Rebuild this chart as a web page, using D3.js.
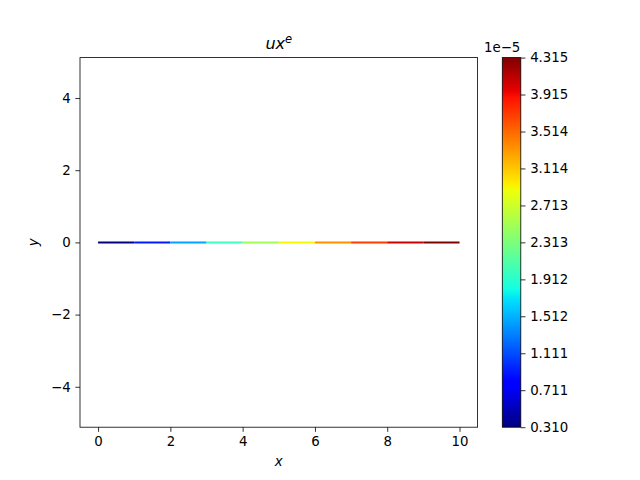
<!DOCTYPE html>
<html><head><meta charset="utf-8">
<script src="https://cdn.jsdelivr.net/npm/d3@7"></script>
<style>body{margin:0;background:#fff}svg{display:block}text{font-family:"DejaVu Sans",sans-serif;fill:#000}</style>
</head><body><svg id="c" width="640" height="480"></svg>
<script>
// Data
const segStarts = [0,1,2,3,4,5,6,7,8,9];
const segEnds   = [1,2,3,4,5,6,7,8,9,10];
const segY      = [0,0,0,0,0,0,0,0,0,0];
const segValues = [0.310,0.911,1.451,2.008,2.493,2.905,3.350,3.706,4.051,4.315]; // x 1e-5
const xTicks = [0,2,4,6,8,10];
const yTicks = [-4,-2,0,2,4];
const cbTicks = [0.310,0.711,1.111,1.512,1.912,2.313,2.713,3.114,3.514,3.915,4.315];
const cbTickLabels = ["0.310","0.711","1.111","1.512","1.912","2.313","2.713","3.114","3.514","3.915","4.315"];

// jet colormap (matplotlib segment data)
const jetR=[[0,0],[0.35,0],[0.66,1],[0.89,1],[1,0.5]];
const jetG=[[0,0],[0.125,0],[0.375,1],[0.64,1],[0.91,0],[1,0]];
const jetB=[[0,0.5],[0.11,1],[0.34,1],[0.65,0],[1,0]];
function interp(seg,t){t=Math.max(0,Math.min(1,t));for(let i=1;i<seg.length;i++){if(t<=seg[i][0]){const a=seg[i-1],b=seg[i];return a[1]+(b[1]-a[1])*(t-a[0])/(b[0]-a[0]);}}return seg[seg.length-1][1];}
function jet(t){return d3.rgb(Math.round(255*interp(jetR,t)),Math.round(255*interp(jetG,t)),Math.round(255*interp(jetB,t))).toString();}

const svg=d3.select("#c");
const L=80,R=477.6,T=57.6,B=427.2;
const x=d3.scaleLinear().domain([-0.5,10.5]).range([L,R]);
const y=d3.scaleLinear().domain([-5.12,5.12]).range([B,T]);
const vmin=d3.min(segValues),vmax=d3.max(segValues);
const norm=d3.scaleLinear().domain([vmin,vmax]).range([0,1]);

// segments
svg.append("g").selectAll("line").data(segStarts).join("line")
  .attr("x1",(d,i)=>x(segStarts[i])).attr("x2",(d,i)=>x(segEnds[i]))
  .attr("y1",(d,i)=>y(segY[i])).attr("y2",(d,i)=>y(segY[i]))
  .attr("stroke",(d,i)=>jet(norm(segValues[i]))).attr("stroke-width",2);

// axes
const fs="13.33px";
const xa=svg.append("g").attr("transform",`translate(0,${B})`).call(d3.axisBottom(x).tickValues(xTicks).tickSize(4.67).tickPadding(4.67).tickFormat(d3.format("d")));
const ya=svg.append("g").attr("transform",`translate(${L},0)`).call(d3.axisLeft(y).tickValues(yTicks).tickSize(4.67).tickPadding(4.67).tickFormat(d=>d<0?"\u2212"+Math.abs(d):d));
[xa,ya].forEach(g=>{g.select(".domain").remove();g.selectAll("text").style("font-size",fs).style("font-family","DejaVu Sans");g.selectAll("line").attr("stroke","#000").attr("stroke-width",0.8);});
svg.append("rect").attr("x",L).attr("y",T).attr("width",R-L).attr("height",B-T).attr("fill","none").attr("stroke","#000").attr("stroke-width",0.8);

// labels
const title=svg.append("text").attr("x",(L+R)/2).attr("y",48.5).attr("text-anchor","middle").style("font-size","16px").style("font-style","italic");
title.append("tspan").style("font-style","italic").text("ux");
title.append("tspan").attr("dy",-6).style("font-size","11.5px").style("font-style","italic").text("e");
svg.append("text").attr("x",(L+R)/2).attr("y",466).attr("text-anchor","middle").style("font-size",fs).style("font-style","italic").text("x");
svg.append("text").attr("transform",`translate(38,${(T+B)/2}) rotate(-90)`).attr("text-anchor","middle").style("font-size",fs).style("font-style","italic").text("y");

// colorbar
const cL=502.3,cR=520.8;
const cy=d3.scaleLinear().domain([vmin,vmax]).range([B,T]);
const defs=svg.append("defs");
const grad=defs.append("linearGradient").attr("id","jetg").attr("x1",0).attr("y1",1).attr("x2",0).attr("y2",0);
d3.range(0,257).forEach(i=>grad.append("stop").attr("offset",i/256).attr("stop-color",jet(i/256)));
svg.append("rect").attr("x",cL).attr("y",T).attr("width",cR-cL).attr("height",B-T).attr("fill","url(#jetg)").attr("stroke","#000").attr("stroke-width",0.8);
const ca=svg.append("g").attr("transform",`translate(${cR},0)`).call(d3.axisRight(cy).tickValues(cbTicks).tickSize(4.67).tickPadding(4.67).tickFormat((d,i)=>cbTickLabels[i]));
ca.select(".domain").remove();
ca.selectAll("text").style("font-size",fs).style("font-family","DejaVu Sans");
ca.selectAll("line").attr("stroke","#000").attr("stroke-width",0.8);
svg.append("text").attr("x",484).attr("y",52).style("font-size",fs).text("1e\u22125");
</script></body></html>
